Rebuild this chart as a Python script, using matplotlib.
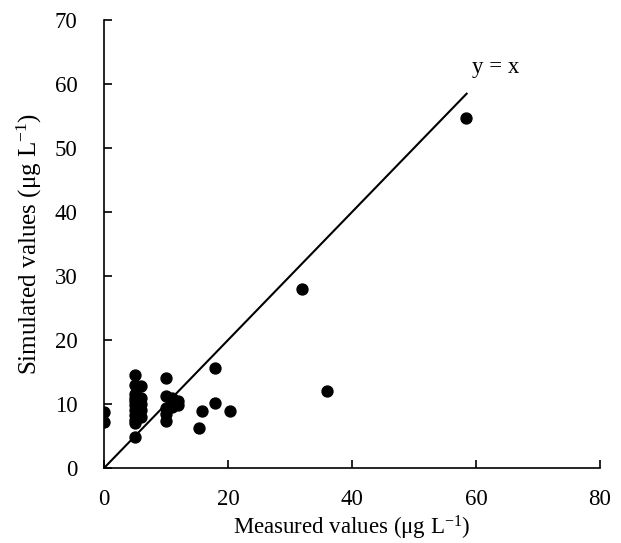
import numpy as np
import matplotlib
matplotlib.use("Agg")
import matplotlib.pyplot as plt

plt.rcParams['font.family'] = ['Liberation Serif', 'DejaVu Serif']
plt.rcParams['mathtext.fontset'] = 'custom'
plt.rcParams['mathtext.rm'] = 'Liberation Serif'
plt.rcParams['mathtext.it'] = 'Liberation Serif:italic'

# measured / simulated (ug/L)
measured = [0, 0,
            5, 5, 5, 5, 5, 5, 5, 5, 5, 5, 5,
            6, 6, 6, 6, 6,
            10, 10, 10, 10, 10,
            11, 11, 11, 12, 12,
            17.9, 15.8, 17.9, 15.3, 20.3,
            31.9, 35.9, 58.4]
simulated = [8.8, 7.2,
             14.6, 13.0, 11.5, 11.0, 10.5, 9.8, 9.0, 8.3, 7.5, 7.0, 4.8,
             12.8, 11.0, 10.0, 9.0, 8.0,
             14.0, 11.3, 9.4, 8.4, 7.4,
             11.0, 10.0, 9.6, 10.5, 9.9,
             15.6, 8.9, 10.1, 6.2, 8.9,
             28.0, 12.1, 54.7]
line_x = [0, 58.5]

fig = plt.figure(figsize=(6.21, 5.43), dpi=100)
ax = fig.add_axes([0.1675, 0.138, 0.7985, 0.825])

ax.plot(line_x, line_x, color='black', lw=1.5)
ax.scatter(measured, simulated, s=62, color='black', zorder=3)
ax.text(59.4, 61.7, 'y = x', fontsize=16.5)

ax.set_xlim(0, 80)
ax.set_ylim(0, 70)
ax.set_xticks(np.arange(0, 81, 20))
ax.set_yticks(np.arange(0, 71, 10))
ax.spines['top'].set_visible(False)
ax.spines['right'].set_visible(False)
ax.spines['left'].set_linewidth(1.2)
ax.spines['bottom'].set_linewidth(1.2)
ax.tick_params(direction='in', length=6, width=1.2, labelsize=16.5)
ax.tick_params(axis='x', pad=15)
ax.tick_params(axis='y', pad=19)
ax.set_xlabel(r'Measured values (μg L$^{\mathregular{-1}}$)', fontsize=16.5, labelpad=3)
ax.set_ylabel(r'Simulated values (μg L$^{\mathregular{-1}}$)', fontsize=18, labelpad=8)

fig.savefig('out.png', dpi=100)
